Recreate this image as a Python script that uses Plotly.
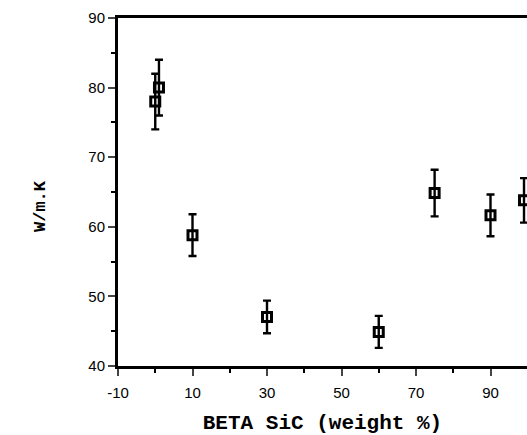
import plotly.graph_objects as go

sic_wt = [0, 1, 10, 30, 60, 75, 90, 99]
conductivity = [78, 80, 58.8, 47.05, 44.9, 64.85, 61.65, 63.8]
error = [4, 4, 3, 2.35, 2.3, 3.35, 3, 3.2]

x_ticks = [-10, 10, 30, 50, 70, 90]
x_labels = ["-10", "10", "30", "50", "70", "90"]
y_ticks = [40, 50, 60, 70, 80, 90]

fig = go.Figure()
fig.add_trace(go.Scatter(
    x=sic_wt, y=conductivity, mode="markers",
    marker=dict(symbol="square-open", size=9, color="black", line=dict(width=3, color="black")),
    error_y=dict(type="data", array=error, visible=True, color="black", thickness=2.4, width=4),
    showlegend=False,
))

fig.update_layout(
    width=527, height=435,
    margin=dict(l=118, r=0, t=18, b=69),
    paper_bgcolor="white", plot_bgcolor="white",
    font=dict(family="Liberation Sans", color="black", size=14),
    annotations=[dict(
        text="W/m.K", textangle=-90, xref="paper", yref="paper",
        x=(40 - 118) / 409, y=(366 - 206) / 348, xanchor="center", yanchor="middle",
        showarrow=False, font=dict(family="Liberation Mono", size=17, weight="bold", color="black"),
    )],
)
fig.update_xaxes(
    range=[-10, 99.8], tickvals=x_ticks, ticktext=x_labels, ticks="outside", ticklen=7, tickwidth=2,
    showline=True, linewidth=3, linecolor="black", mirror=True, showgrid=False, zeroline=False,
    minor=dict(tickvals=[0, 20, 40, 60, 80], ticks="outside", ticklen=4, tickwidth=1.5, tickcolor="black"),
    tickfont=dict(size=15, family="Liberation Sans"), ticklabelstandoff=4,
    title=dict(text="BETA SiC (weight %)", font=dict(family="Liberation Mono", size=21, weight="bold"), standoff=16),
)
fig.update_yaxes(
    range=[40, 90], tickvals=y_ticks, ticks="outside", ticklen=7, tickwidth=2,
    showline=True, linewidth=3, linecolor="black", showgrid=False, zeroline=False,
    minor=dict(tickvals=[45, 55, 65, 75, 85], ticks="outside", ticklen=4, tickwidth=1.5, tickcolor="black"),
    tickfont=dict(size=15, family="Liberation Sans"),
)

fig.write_html("out.html")
